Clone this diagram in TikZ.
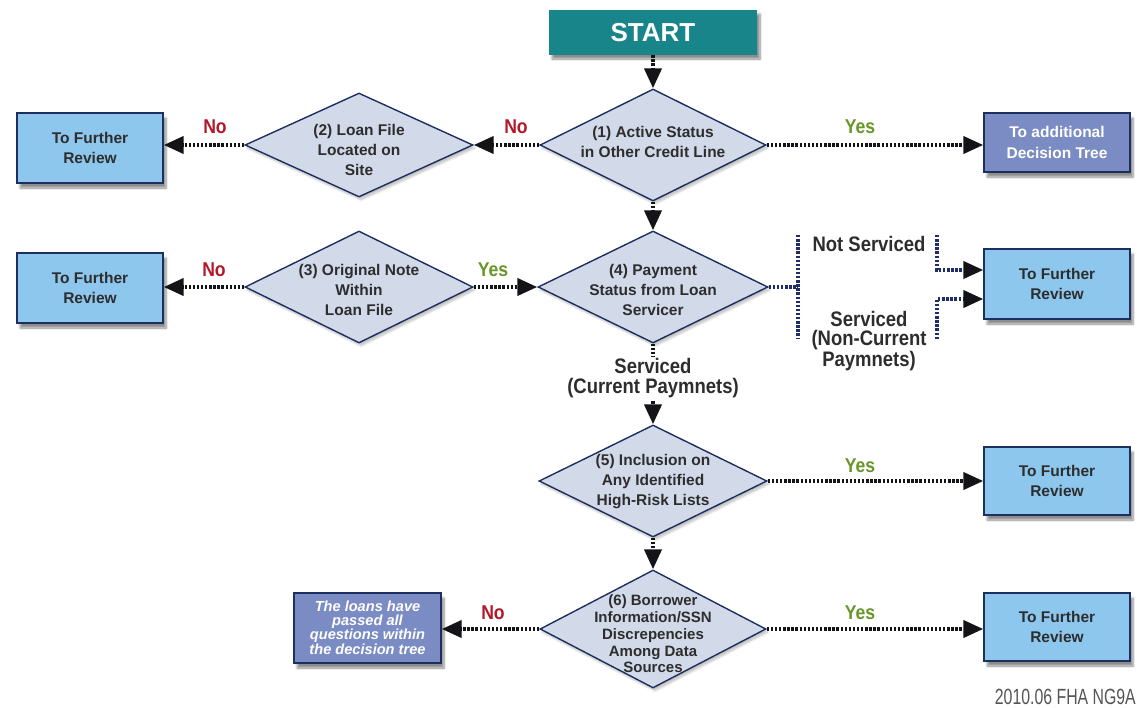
\documentclass[tikz,border=0pt]{standalone}
\usepackage{fontspec}
\setmainfont{Liberation Sans}
\newfontfamily\labfont[FakeStretch=0.88]{Liberation Sans}
\newfontfamily\credfont[FakeStretch=0.72]{Liberation Sans}
\usetikzlibrary{shapes.geometric,arrows.meta,shadows.blur,calc}
\definecolor{teal1}{RGB}{24,133,139}
\definecolor{boxblue}{RGB}{141,199,238}
\definecolor{navy}{RGB}{28,47,94}
\definecolor{diafill}{RGB}{210,218,234}
\definecolor{purp}{RGB}{123,140,196}
\definecolor{nored}{RGB}{178,24,40}
\definecolor{yesgreen}{RGB}{104,150,40}
\definecolor{dotblack}{RGB}{20,20,24}
\definecolor{dotnavy}{RGB}{31,45,107}
\definecolor{credgray}{RGB}{85,85,85}
\definecolor{txt}{RGB}{45,45,45}
\tikzset{
  startbox/.style={rectangle, fill=teal1, minimum width=208pt, minimum height=45pt,
    text=white, font=\fontsize{26}{30}\selectfont\bfseries,
    blur shadow={shadow xshift=3pt, shadow yshift=-4pt, shadow blur steps=8, shadow opacity=45}},
  fbox/.style={rectangle, draw=navy, line width=1.4pt, fill=boxblue, minimum width=146pt,
    minimum height=70pt, align=center, font=\fontsize{15.5}{20.5}\selectfont\bfseries, text=txt,
    blur shadow={shadow xshift=3pt, shadow yshift=-5pt, shadow blur steps=8, shadow opacity=45}},
  pbox/.style={fbox, fill=purp, text=white},
  dia/.style={diamond, draw=navy, line width=1.4pt, fill=diafill, inner sep=0pt,
    blur shadow={shadow xshift=2pt, shadow yshift=-3pt, shadow blur steps=6, shadow opacity=25}},
  dtext/.style={align=center, font=\fontsize{15.5}{20}\selectfont\bfseries, text=txt, inner sep=0pt},
  conn/.style={draw=dotblack, line width=4pt, dash pattern=on 2.4pt off 1.7pt,
    -{Triangle[length=20pt,width=17pt]}},
  nline/.style={draw=dotnavy, line width=4pt, dash pattern=on 2.4pt off 1.7pt},
  nconn/.style={nline, -{Triangle[length=20pt,width=17pt,color=dotblack]}},
  nolab/.style={text=nored, font=\labfont\fontsize{20}{22}\selectfont\bfseries},
  yeslab/.style={text=yesgreen, font=\labfont\fontsize{20}{22}\selectfont\bfseries},
  blab/.style={text=txt, align=center, font=\labfont\fontsize{21}{19.5}\selectfont\bfseries},
  credit/.style={text=credgray, font=\credfont\fontsize{22}{24}\selectfont, inner sep=0pt}
}
\begin{document}
\begin{tikzpicture}[x=1pt,y=-1pt]
\useasboundingbox (0,0) rectangle (1137,707);
% start
\node[startbox] (start) at (653,32.5) {START};
% diamonds
\node[dia, minimum width=226pt, minimum height=112pt] (d1) at (653,145) {};
\node[dia, minimum width=228pt, minimum height=104pt] (d2) at (359,145) {};
\node[dia, minimum width=228pt, minimum height=112pt] (d3) at (359,287) {};
\node[dia, minimum width=230pt, minimum height=112pt] (d4) at (653,287) {};
\node[dia, minimum width=228pt, minimum height=112pt] (d5) at (653,481) {};
\node[dia, minimum width=226pt, minimum height=118pt] (d6) at (653,629) {};
\node[dtext] (t1) at (653,142) {(1) Active Status\\in Other Credit Line};
\node[dtext] (t2) at (359,150) {(2) Loan File\\Located on\\Site};
\node[dtext] (t3) at (359,290) {(3) Original Note\\Within\\Loan File};
\node[dtext] (t4) at (653,290) {(4) Payment\\Status from Loan\\Servicer};
\node[dtext] (t5) at (653,482) {(5) Inclusion on\\Any Identified\\High-Risk Lists};
\node[dtext, font=\fontsize{15}{16.7}\selectfont\bfseries] (t6) at (653,634) {(6) Borrower\\Information/SSN\\Discrepencies\\Among Data\\Sources};
% boxes
\node[fbox] (b1) at (90,148) {To Further\\Review};
\node[fbox] (b2) at (90,288) {To Further\\Review};
\node[pbox, minimum height=59pt] (ad) at (1057,142.5) {To additional\\Decision Tree};
\node[fbox] (r2) at (1057,284) {To Further\\Review};
\node[fbox, minimum height=68pt] (r3) at (1057,481) {To Further\\Review};
\node[fbox, minimum height=68pt] (r4) at (1057,627) {To Further\\Review};
\node[pbox, minimum width=147pt, font=\fontsize{14.6}{13.4}\selectfont\bfseries\itshape] (pb) at (367.5,628) {The loans have\\passed all\\questions within\\the decision tree};
% connectors
\draw[conn] (start.south) -- (d1.north);
\draw[conn] (d1.west) -- (d2.east);
\draw[conn] (d2.west) -- (d2.west -| b1.east);
\draw[conn] (d1.east) -- (d1.east -| ad.west);
\draw[conn] (d3.west) -- (d3.west -| b2.east);
\draw[conn] (d3.east) -- (d4.west);
\draw[conn] (d1.south) -- (d4.north);
\draw[conn] (d4.south) -- (d5.north);
\draw[conn] (d5.east) -- (d5.east -| r3.west);
\draw[conn] (d5.south) -- (d6.north);
\draw[conn] (d6.east) -- (d6.east -| r4.west);
\draw[conn] (d6.west) -- (d6.west -| pb.east);
% split after (4)
\coordinate (sp) at (798,287);
\coordinate (vt) at (798,235);
\coordinate (vb) at (798,339);
\coordinate (rt) at (937,235);
\coordinate (rb) at (937,339);
\draw[nline] (d4.east) -- (sp);
\draw[nline] (vt) -- (vb);
\draw[nconn] (rt) |- ($(r2.west)+(0,-14)$);
\draw[nconn] (rb) |- ($(r2.west)+(0,15)$);
% labels
\node[nolab] (no1) at (516,127) {No};
\node[nolab] (no2) at (215,127) {No};
\node[yeslab] (yes1) at (860,127) {Yes};
\node[nolab] (no3) at (214,270) {No};
\node[yeslab] (yes2) at (493,270) {Yes};
\node[yeslab] (yes3) at (860,466) {Yes};
\node[yeslab] (yes4) at (860,613) {Yes};
\node[nolab] (no4) at (493,613) {No};
\node[blab, fill=white, inner sep=1pt] (cur) at (653,378) {Serviced\\(Current Paymnets)};
\node[blab] (ns) at (869,244) {Not Serviced};
\node[blab] (nc) at (869,341) {Serviced\\(Non-Current\\Paymnets)};
\node[credit, anchor=south east] (cr) at (1136,705) {2010.06 FHA NG9A};
\end{tikzpicture}
\end{document}
